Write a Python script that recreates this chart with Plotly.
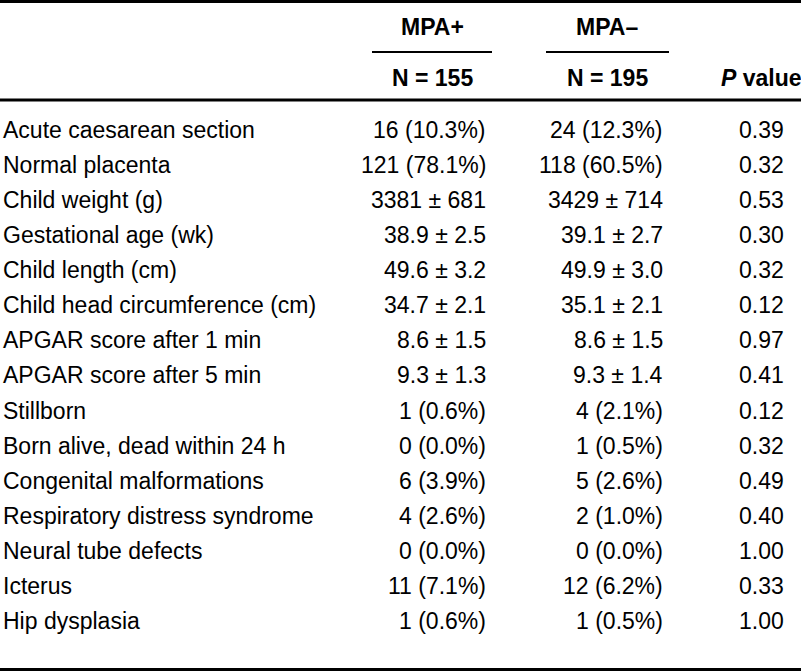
import plotly.graph_objects as go

labels = [
    "Acute caesarean section", "Normal placenta", "Child weight (g)",
    "Gestational age (wk)", "Child length (cm)", "Child head circumference (cm)",
    "APGAR score after 1 min", "APGAR score after 5 min", "Stillborn",
    "Born alive, dead within 24 h", "Congenital malformations",
    "Respiratory distress syndrome", "Neural tube defects", "Icterus", "Hip dysplasia",
]
mpa_plus = [
    "16 (10.3%)", "121 (78.1%)", "3381 ± 681", "38.9 ± 2.5", "49.6 ± 3.2",
    "34.7 ± 2.1", "8.6 ± 1.5", "9.3 ± 1.3", "1 (0.6%)", "0 (0.0%)",
    "6 (3.9%)", "4 (2.6%)", "0 (0.0%)", "11 (7.1%)", "1 (0.6%)",
]
mpa_minus = [
    "24 (12.3%)", "118 (60.5%)", "3429 ± 714", "39.1 ± 2.7", "49.9 ± 3.0",
    "35.1 ± 2.1", "8.6 ± 1.5", "9.3 ± 1.4", "4 (2.1%)", "1 (0.5%)",
    "5 (2.6%)", "2 (1.0%)", "0 (0.0%)", "12 (6.2%)", "1 (0.5%)",
]
p_values = [
    "0.39", "0.32", "0.53", "0.30", "0.32", "0.12", "0.97", "0.41",
    "0.12", "0.32", "0.49", "0.40", "1.00", "0.33", "1.00",
]
group_names = ["MPA+", "MPA–"]
group_n = ["N = 155", "N = 195"]

W, H = 801, 672
FONT = "Liberation Sans, Arial, sans-serif"
FS = 23
row0, dy = 130, 35.07

fig = go.Figure()
fig.add_trace(go.Scatter(x=[0], y=[0], mode="markers", marker=dict(opacity=0), hoverinfo="skip", showlegend=False))

ann = []
def add(x, y, text, anchor, bold=False):
    ann.append(dict(x=x, y=y, xref="x", yref="y", text=f"<b>{text}</b>" if bold else text,
                    showarrow=False, xanchor=anchor, yanchor="middle",
                    font=dict(family=FONT, size=FS, color="black")))

for i, lab in enumerate(labels):
    y = row0 + i * dy
    add(1, y, lab, "left")
    add(488, y, mpa_plus[i], "right")
    add(665, y, mpa_minus[i], "right")
    add(761, y, p_values[i], "center")

col_centers = [432, 607]
for c, g, n in zip(col_centers, group_names, group_n):
    add(c, 27, g, "center", bold=True)
    add(c, 78, n, "center", bold=True)
add(761, 78, "<i>P</i> value", "center", bold=True)

shapes = [
    dict(type="line", x0=0, x1=W, y0=1.5, y1=1.5, line=dict(color="black", width=3)),
    dict(type="line", x0=0, x1=W, y0=100, y1=100, line=dict(color="black", width=3)),
    dict(type="line", x0=0, x1=W, y0=669.5, y1=669.5, line=dict(color="black", width=3)),
    dict(type="line", x0=372, x1=492, y0=52, y1=52, line=dict(color="black", width=2)),
    dict(type="line", x0=546, x1=669, y0=52, y1=52, line=dict(color="black", width=2)),
]

fig.update_layout(
    width=W, height=H, margin=dict(l=0, r=0, t=0, b=0),
    paper_bgcolor="white", plot_bgcolor="white",
    xaxis=dict(range=[0, W], visible=False, fixedrange=True),
    yaxis=dict(range=[H, 0], visible=False, fixedrange=True),
    annotations=ann, shapes=shapes, showlegend=False,
)
fig.write_html("out.html", post_script="document.body.style.margin='0';",
               config={"displayModeBar": False})
